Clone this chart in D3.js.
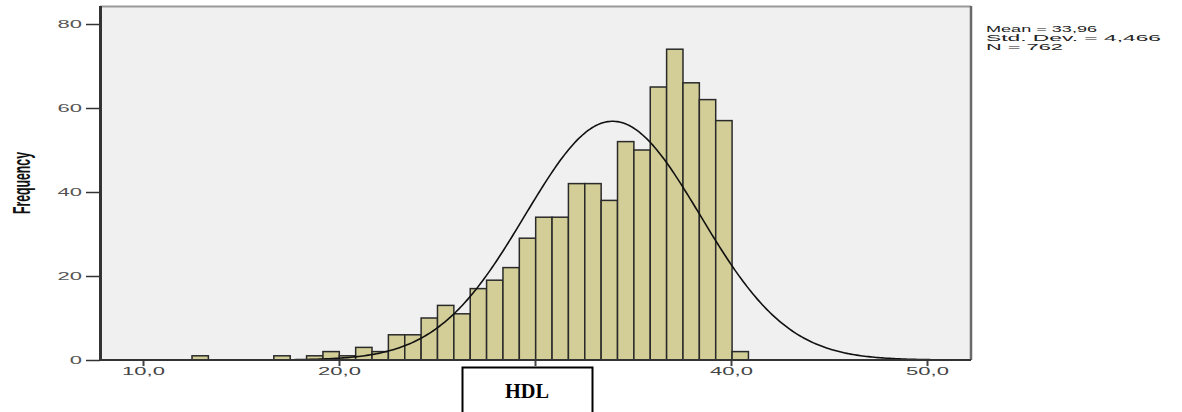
<!DOCTYPE html>
<html>
<head>
<meta charset="utf-8">
<script src="https://cdn.jsdelivr.net/npm/d3@7"></script>
<style>
  body { margin: 0; background: #fff; }
</style>
</head>
<body>
<svg id="chart" width="1182" height="412"></svg>
<script>
// HDL histogram (SPSS style) - counts
const binStart = 12.5
const binWidth = 0.835
const counts = [1, 0, 0, 0, 0, 1, 0, 1, 2, 1, 3, 2, 6, 6, 10, 13, 11, 17, 19, 22,
                29, 34, 34, 42, 42, 38, 52, 50, 65, 74, 66, 62, 57, 2]
const xTicks = [10, 20, 30, 40, 50]
const yTicks = [0, 20, 40, 60, 80]
const statLines = ["Mean = 33,96", "Std. Dev. = 4,466", "N = 762"]
const mean = 33.96
const sd = 4.466
const n = 762

const svg = d3.select("#chart")

// scales
const x = d3.scaleLinear()
            .domain([7.806, 52.194])
            .range([100, 970])
const y = d3.scaleLinear()
            .domain([0, 84.05])
            .range([360, 7])

// widen text like the stretched SPSS export
function stretch(sel, k) {
  sel.each(function() {
    const w = this.getComputedTextLength()
    d3.select(this).attr("textLength", w * k).attr("lengthAdjust", "spacingAndGlyphs")
  })
}

// plot background + frame
svg.append("rect")
   .attr("x", 100).attr("y", 7)
   .attr("width", 870).attr("height", 353)
   .style("fill", "#f0f0f0")
svg.append("line")
   .attr("x1", 100).attr("x2", 971).attr("y1", 6.5).attr("y2", 6.5)
   .style("stroke", "#9a9a9a").style("stroke-width", 2)
svg.append("line")
   .attr("x1", 971).attr("x2", 971).attr("y1", 6).attr("y2", 360)
   .style("stroke", "#6a6a6a").style("stroke-width", 2.5)

// bars
const bins = counts.map((c, i) => ({ x0: binStart + i * binWidth, x1: binStart + (i + 1) * binWidth, count: c }))
                   .filter(d => d.count > 0)

svg.append("g")
   .selectAll("rect")
   .data(bins)
   .enter()
   .append("rect")
   .attr("x", d => x(d.x0))
   .attr("y", d => y(d.count))
   .attr("width", d => x(d.x1) - x(d.x0))
   .attr("height", d => y(0) - y(d.count))
   .style("fill", "#d3ce97")
   .style("stroke", "#2a2a2a")
   .style("stroke-width", 1.5)

// normal curve from the stats
const curvePts = d3.range(7.81, 52.19, 0.1).map(v => {
  const z = (v - mean) / sd
  return [v, n * binWidth * Math.exp(-0.5 * z * z) / (sd * Math.sqrt(2 * Math.PI))]
})
svg.append("path")
   .datum(curvePts)
   .attr("d", d3.line().x(d => x(d[0])).y(d => y(d[1])))
   .style("fill", "none")
   .style("stroke", "#111")
   .style("stroke-width", 1.6)

// y axis
const yAxis = svg.append("g")
                 .attr("transform", "translate(100,0)")
                 .call(d3.axisLeft(y).tickValues(yTicks).tickSize(14).tickPadding(4).tickFormat(d3.format("d")))
yAxis.select(".domain").remove()
yAxis.selectAll("line").style("stroke", "#333").style("stroke-width", 1.5)
yAxis.selectAll("text")
     .style("font-family", "'Liberation Sans', Arial, sans-serif")
     .style("font-size", "11px")
     .style("fill", "#555")
     .call(stretch, 2)

// x axis
const xAxis = svg.append("g")
                 .attr("transform", "translate(0,360)")
                 .call(d3.axisBottom(x).tickValues(xTicks).tickSize(6).tickPadding(1)
                         .tickFormat(d => d.toFixed(1).replace(".", ",")))
xAxis.select(".domain").remove()
xAxis.selectAll("line").style("stroke", "#444").style("stroke-width", 2)
xAxis.selectAll("text")
     .style("font-family", "'Liberation Sans', Arial, sans-serif")
     .style("font-size", "11px")
     .style("fill", "#444")
     .call(stretch, 2)

// axis lines
svg.append("line")
   .attr("x1", 100).attr("x2", 971).attr("y1", 360).attr("y2", 360)
   .style("stroke", "#333").style("stroke-width", 2)
svg.append("line")
   .attr("x1", 100.5).attr("x2", 100.5).attr("y1", 6).attr("y2", 361)
   .style("stroke", "#333").style("stroke-width", 3)

// y label
svg.append("text")
   .attr("transform", "translate(30,183) rotate(-90)")
   .attr("text-anchor", "middle")
   .attr("textLength", 62)
   .attr("lengthAdjust", "spacingAndGlyphs")
   .style("font-family", "'Liberation Sans Narrow', 'Liberation Sans', sans-serif")
   .style("font-weight", "bold")
   .style("font-size", "24px")
   .style("fill", "#111")
   .text("Frequency")

// HDL box (covers the 30,0 label)
svg.append("rect")
   .attr("x", 462.5).attr("y", 367.5)
   .attr("width", 130).attr("height", 60)
   .style("fill", "#fff")
   .style("stroke", "#000")
   .style("stroke-width", 2)
svg.append("text")
   .attr("x", 527).attr("y", 398)
   .attr("text-anchor", "middle")
   .attr("textLength", 44)
   .attr("lengthAdjust", "spacingAndGlyphs")
   .style("font-family", "'Liberation Serif', 'Times New Roman', serif")
   .style("font-weight", "bold")
   .style("font-size", "22px")
   .text("HDL")

// stats box text
const statWidths = [111, 175, 77]
svg.append("g")
   .selectAll("text")
   .data(statLines)
   .enter()
   .append("text")
   .attr("x", 986)
   .attr("y", (d, i) => 31.5 + i * 9)
   .attr("textLength", (d, i) => statWidths[i])
   .attr("lengthAdjust", "spacingAndGlyphs")
   .style("font-family", "'Liberation Sans', Arial, sans-serif")
   .style("font-size", "9px")
   .style("fill", "#222")
   .text(d => d)
</script>
</body>
</html>
